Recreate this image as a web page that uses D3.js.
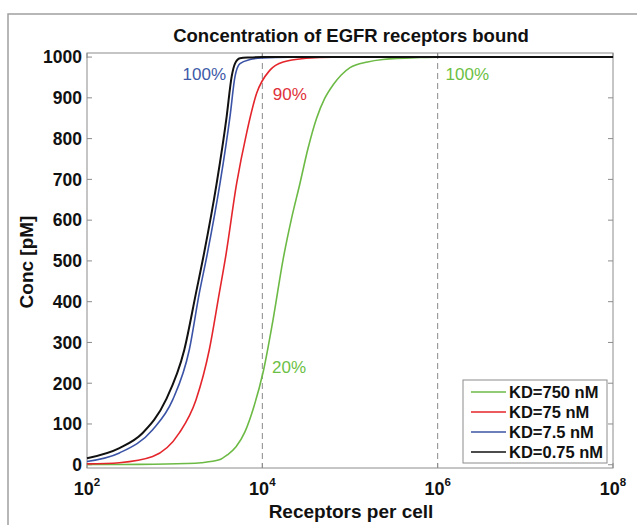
<!DOCTYPE html>
<html>
<head>
<meta charset="utf-8">
<script src="https://cdn.jsdelivr.net/npm/d3@7"></script>
<style>
  body { margin: 0; background: #fff; }
  svg { display: block; font-family: "Liberation Sans", Arial, sans-serif; }
</style>
</head>
<body>
<div id="chart"></div>
<script>
// series: log10(receptors per cell) and bound conc [pM]
const seriesNames = ['KD=750 nM', 'KD=75 nM', 'KD=7.5 nM', 'KD=0.75 nM'];
const seriesColors = ['#6cba45', '#e4262c', '#3b53a6', '#111111'];

const greenLogR = [2.0, 2.6, 3.13, 3.3, 3.509, 3.6, 3.7, 3.8, 3.9, 4.01, 4.124, 4.238, 4.334, 4.429, 4.52, 4.619, 4.71, 4.808, 4.9, 5.0, 5.2, 5.375, 5.8, 6.0, 8.0];
const greenConc = [0.5, 1, 3, 5, 12, 24, 44, 80, 140, 228, 358, 505, 605, 690, 775, 850, 898, 932, 956, 974, 988, 994, 999, 1000, 1000];

const redLogR = [2.0, 2.37, 2.749, 3.053, 3.243, 3.395, 3.509, 3.585, 3.707, 3.82, 3.935, 4.087, 4.238, 4.5, 4.8, 8.0];
const redConc = [2, 5, 20, 78, 159, 282, 421, 515, 690, 813, 911, 968, 988, 997, 1000, 1000];

const blueLogR = [2.0, 2.37, 2.749, 2.977, 3.167, 3.281, 3.37, 3.517, 3.631, 3.688, 3.745, 3.859, 4.0, 4.3, 8.0];
const blueConc = [8, 29, 86, 159, 282, 421, 515, 690, 854, 952, 984, 994, 998, 1000, 1000];

const blackLogR = [2.0, 2.37, 2.635, 2.9, 3.11, 3.243, 3.332, 3.479, 3.593, 3.65, 3.688, 3.745, 3.85, 4.0, 8.0];
const blackConc = [16, 41, 78, 159, 282, 421, 515, 690, 854, 952, 984, 997, 999, 1000, 1000];

const yTicks = [0, 100, 200, 300, 400, 500, 600, 700, 800, 900, 1000];
const xTickExps = [2, 4, 6, 8];
const refLines = [1e4, 1e6];

const annotations = [
  {text: '100%', logR: 3.09, conc: 960, color: '#3e5aa8'},
  {text: '90%', logR: 4.12, conc: 910, color: '#e0303a'},
  {text: '100%', logR: 6.09, conc: 960, color: '#6cbf45'},
  {text: '20%', logR: 4.11, conc: 240, color: '#6cbf45'}
];

const width = 637, height = 525;
const m = {l: 87, r: 24, t: 53, b: 57};

const svg = d3.select('#chart').append('svg')
  .attr('width', width)
  .attr('height', height);

// outer figure frame (only top/left visible)
svg.append('path')
  .attr('d', `M8,${height} L8,14 L${width},14`)
  .attr('fill', 'none')
  .attr('stroke', '#a0a0a0')
  .attr('stroke-width', 1.5);

const x = d3.scaleLog().domain([1e2, 1e8]).range([m.l, width - m.r]);
const y = d3.scaleLinear().domain([-8, 1010]).range([height - m.b, m.t]);

const plot = svg.append('g');

// reference dashed lines
plot.selectAll('.ref')
  .data(refLines)
  .enter().append('line')
  .attr('class', 'ref')
  .attr('x1', d => x(d)).attr('x2', d => x(d))
  .attr('y1', y.range()[1]).attr('y2', y.range()[0])
  .attr('stroke', '#8a8a8a')
  .attr('stroke-width', 1)
  .attr('stroke-dasharray', '6,4');

// axes box
plot.append('rect')
  .attr('x', m.l).attr('y', m.t)
  .attr('width', width - m.r - m.l)
  .attr('height', height - m.b - m.t)
  .attr('fill', 'none')
  .attr('stroke', '#8c8c8c')
  .attr('stroke-width', 1);

// inside ticks
const tickLen = 5;
const tickG = plot.append('g');
yTicks.forEach(t => {
  tickG.append('line')
    .attr('x1', m.l).attr('x2', m.l + tickLen)
    .attr('y1', y(t)).attr('y2', y(t))
    .attr('stroke', '#8c8c8c');
  tickG.append('line')
    .attr('x1', width - m.r).attr('x2', width - m.r - tickLen)
    .attr('y1', y(t)).attr('y2', y(t))
    .attr('stroke', '#8c8c8c');
});
xTickExps.forEach(e => {
  const px = x(Math.pow(10, e));
  tickG.append('line')
    .attr('x1', px).attr('x2', px)
    .attr('y1', y.range()[0]).attr('y2', y.range()[0] - tickLen)
    .attr('stroke', '#8c8c8c');
  tickG.append('line')
    .attr('x1', px).attr('x2', px)
    .attr('y1', y.range()[1]).attr('y2', y.range()[1] + tickLen)
    .attr('stroke', '#8c8c8c');
});

// y tick labels
plot.selectAll('.ylab')
  .data(yTicks)
  .enter().append('text')
  .attr('class', 'ylab')
  .attr('x', m.l - 5)
  .attr('y', d => y(d))
  .attr('dy', '0.36em')
  .attr('text-anchor', 'end')
  .attr('font-size', 17.5)
  .attr('font-weight', 'bold')
  .attr('fill', '#111')
  .text(d => d);

// x tick labels 10^n
const xl = plot.selectAll('.xlab')
  .data(xTickExps)
  .enter().append('text')
  .attr('class', 'xlab')
  .attr('x', d => x(Math.pow(10, d)))
  .attr('y', 495)
  .attr('text-anchor', 'middle')
  .attr('font-size', 18)
  .attr('font-weight', 'bold')
  .attr('fill', '#111');
xl.append('tspan').text('10');
xl.append('tspan')
  .attr('dy', -9)
  .attr('font-size', 11.5)
  .text(d => d);

// curves
const allSeries = [
  {logR: greenLogR, conc: greenConc},
  {logR: redLogR, conc: redConc},
  {logR: blueLogR, conc: blueConc},
  {logR: blackLogR, conc: blackConc}
].map((s, i) => ({
  name: seriesNames[i],
  color: seriesColors[i],
  values: s.logR.map((v, j) => ({r: Math.pow(10, v), c: s.conc[j]}))
}));

const line = d3.line()
  .x(d => x(d.r))
  .y(d => y(d.c))
  .curve(d3.curveMonotoneX);

plot.selectAll('.curve')
  .data(allSeries)
  .enter().append('path')
  .attr('class', 'curve')
  .attr('d', d => line(d.values))
  .attr('fill', 'none')
  .attr('stroke', d => d.color)
  .attr('stroke-width', (d, i) => i === 3 ? 2 : 1.6);

// annotations
plot.selectAll('.note')
  .data(annotations)
  .enter().append('text')
  .attr('class', 'note')
  .attr('x', d => x(Math.pow(10, d.logR)))
  .attr('y', d => y(d.conc))
  .attr('dy', '0.36em')
  .attr('font-size', 17)
  .attr('fill', d => d.color)
  .text(d => d.text);

// legend
const lg = svg.append('g').attr('transform', 'translate(463,380)');
lg.append('rect')
  .attr('width', 144).attr('height', 83)
  .attr('fill', '#fff')
  .attr('stroke', '#8c8c8c');
allSeries.forEach((s, i) => {
  const ly = 12 + i * 20;
  lg.append('line')
    .attr('x1', 8).attr('x2', 43)
    .attr('y1', ly).attr('y2', ly)
    .attr('stroke', s.color)
    .attr('stroke-width', 1.6);
  lg.append('text')
    .attr('x', 46).attr('y', ly)
    .attr('dy', '0.36em')
    .attr('font-size', 16.5)
    .attr('font-weight', 'bold')
    .attr('fill', '#111')
    .text(s.name);
});

// titles
svg.append('text')
  .attr('x', 351).attr('y', 42)
  .attr('text-anchor', 'middle')
  .attr('font-size', 18.5)
  .attr('font-weight', 'bold')
  .attr('fill', '#111')
  .text('Concentration of EGFR receptors bound');

svg.append('text')
  .attr('x', 351).attr('y', 518)
  .attr('text-anchor', 'middle')
  .attr('font-size', 19)
  .attr('font-weight', 'bold')
  .attr('fill', '#111')
  .text('Receptors per cell');

svg.append('text')
  .attr('transform', 'translate(33,262) rotate(-90)')
  .attr('text-anchor', 'middle')
  .attr('font-size', 19)
  .attr('font-weight', 'bold')
  .attr('fill', '#111')
  .text('Conc [pM]');
</script>
</body>
</html>
